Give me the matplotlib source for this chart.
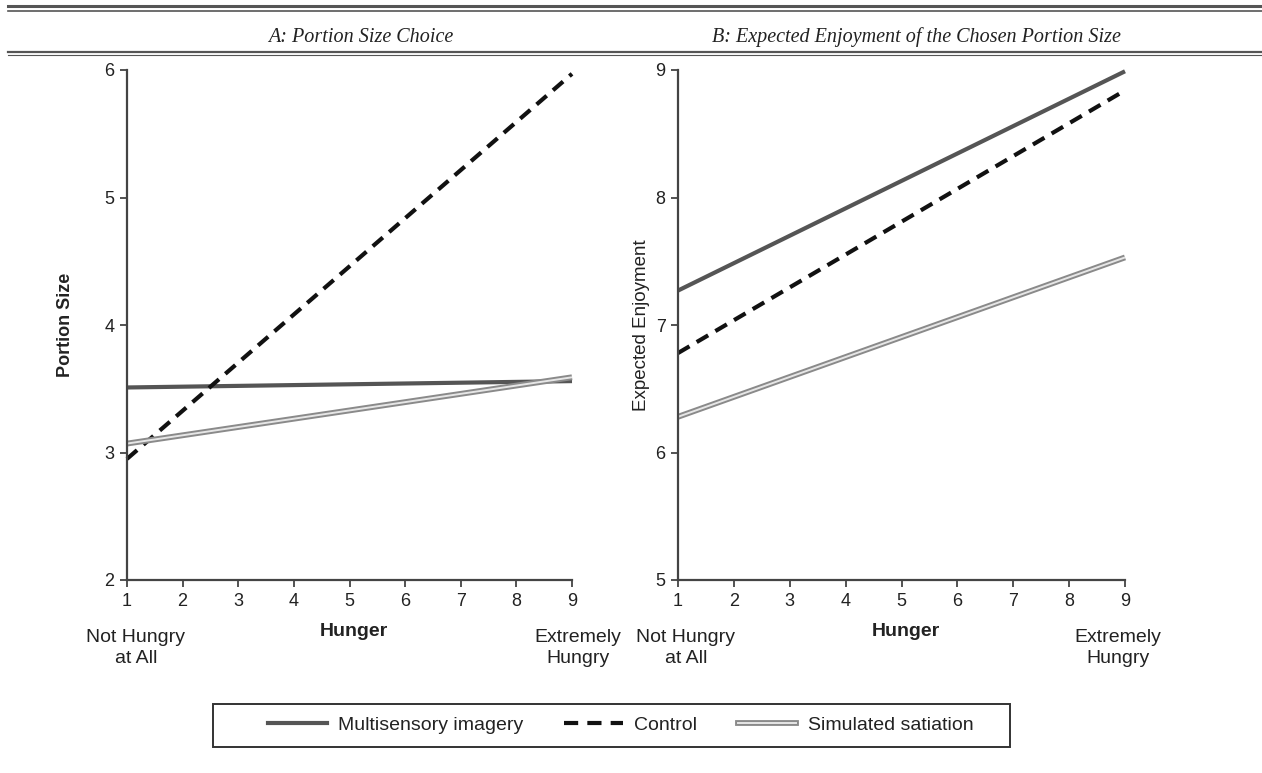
import matplotlib.pyplot as plt
from matplotlib.lines import Line2D
from matplotlib.patches import Rectangle
from matplotlib.legend_handler import HandlerTuple

plt.rcParams['font.family'] = ['Liberation Sans', 'DejaVu Sans']

# hunger scale end points
hunger = [1, 9]

# panel A: portion size
portion_multi = [3.51, 3.56]
portion_control = [2.95, 5.97]
portion_satiation = [3.07, 3.59]

# panel B: expected enjoyment
enjoy_multi = [7.27, 8.99]
enjoy_control = [6.78, 8.84]
enjoy_satiation = [6.28, 7.53]

x_ticks = list(range(1, 10))
titles = ["A: Portion Size Choice", "B: Expected Enjoyment of the Chosen Portion Size"]
ylabels = ["Portion Size", "Expected Enjoyment"]

fig = plt.figure(figsize=(12.62, 7.73), dpi=100)

W, H = 1262, 773


def fx(px):
    return px / W


def fy(py):
    return 1 - py / H


# double rules at the top
for y, lw in [(6, 2.2), (10.5, 1.2), (51.5, 1.6), (54.5, 0.8)]:
    fig.add_artist(Line2D([fx(8), 1], [fy(y), fy(y)], color='#555555', lw=lw))

panels = [
    dict(left=127, right=572, ylim=(2, 6), data=(portion_multi, portion_control, portion_satiation),
         title_x=361, ylabel_x=65, ylabel_w='bold', ylabel_fs=13, nh_x=136, ex_x=578),
    dict(left=678, right=1125, ylim=(5, 9), data=(enjoy_multi, enjoy_control, enjoy_satiation),
         title_x=916, ylabel_x=642, ylabel_w='normal', ylabel_fs=13.5, nh_x=686, ex_x=1118),
]

for i, p in enumerate(panels):
    ax = fig.add_axes([fx(p['left']), fy(580), fx(p['right'] - p['left']), (580 - 70) / H])
    multi, control, sat = p['data']
    ax.plot(hunger, multi, color='#555555', lw=3, solid_capstyle='butt')
    ax.plot(hunger, control, color='#111111', lw=3, dashes=(3.2, 2.0))
    ax.plot(hunger, sat, color='#8a8a8a', lw=4.2, solid_capstyle='butt')
    ax.plot(hunger, sat, color='#e6e6e6', lw=1.4, solid_capstyle='butt')

    ax.set_xlim(1, 9)
    ax.set_ylim(*p['ylim'])
    ax.set_xticks(x_ticks)
    ax.set_yticks(range(p['ylim'][0], p['ylim'][1] + 1))
    for s in ['top', 'right']:
        ax.spines[s].set_visible(False)
    for s in ['left', 'bottom']:
        ax.spines[s].set_color('#444444')
        ax.spines[s].set_linewidth(1.6)
    ax.tick_params(direction='out', length=5, width=1.3, color='#444444',
                   labelsize=13, labelcolor='#222222', pad=4)
    for ln in ax.lines:
        ln.set_clip_on(False)

    # y label
    fig.text(fx(p['ylabel_x']), fy(325), ylabels[i], rotation=90, ha='center', va='center',
             fontsize=p['ylabel_fs'], fontweight=p['ylabel_w'], color='#222222')
    # panel title
    fig.text(fx(p['title_x']), fy(37), titles[i], ha='center', va='center', fontsize=14.5,
             family='Liberation Serif', style='italic', color='#222222')
    # x axis labels
    fig.text(fx(p['nh_x']), fy(648), "Not Hungry\nat All", ha='center', va='center',
             fontsize=14, color='#222222', linespacing=1.35)
    fig.text(fx((p['left'] + p['right']) / 2 + 4), fy(632), "Hunger", ha='center', va='center',
             fontsize=14, fontweight='bold', color='#222222')
    fig.text(fx(p['ex_x']), fy(648), "Extremely\nHungry", ha='center', va='center',
             fontsize=14, color='#222222', linespacing=1.35)

h_multi = Line2D([], [], color='#555555', lw=3)
h_control = Line2D([], [], color='#111111', lw=3, dashes=(3.4, 2.2))
h_sat = (Line2D([], [], color='#8a8a8a', lw=4.2), Line2D([], [], color='#e6e6e6', lw=1.4))

leg = fig.legend([h_multi, h_control, h_sat],
                 ["Multisensory imagery", "Control", "Simulated satiation"],
                 handler_map={tuple: HandlerTuple(ndivide=1)},
                 loc='center', bbox_to_anchor=(fx(621), fy(725)), ncol=3,
                 fontsize=14, frameon=False,
                 handlelength=3.0, columnspacing=2.1, borderpad=0.6, handletextpad=0.6)
for t in leg.get_texts():
    t.set_color('#222222')

# legend box is wider than its content in the original
fig.add_artist(Rectangle((fx(213), fy(747)), fx(1010 - 213), (747 - 704) / H,
                         transform=fig.transFigure, fill=False, edgecolor='#333333', lw=1.4))

fig.savefig("out.png", dpi=100)
